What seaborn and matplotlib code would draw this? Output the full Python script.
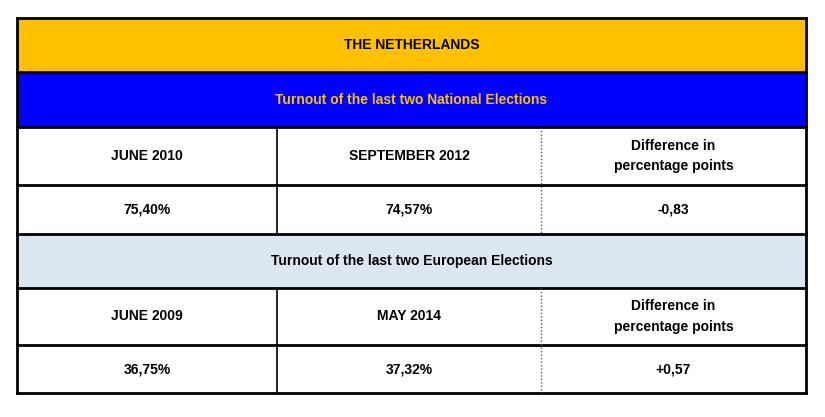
import matplotlib
matplotlib.use("Agg")
import matplotlib.pyplot as plt
import seaborn as sns
from matplotlib.patches import Rectangle

title = "THE NETHERLANDS"
national_title = "Turnout of the last two National Elections"
european_title = "Turnout of the last two European Elections"
national_headers = ["JUNE 2010", "SEPTEMBER 2012", "Difference in\npercentage points"]
national_values = ["75,40%", "74,57%", "-0,83"]
european_headers = ["JUNE 2009", "MAY 2014", "Difference in\npercentage points"]
european_values = ["36,75%", "37,32%", "+0,57"]

sns.set_theme(style="white")
plt.rcParams['font.family'] = ['Liberation Sans', 'DejaVu Sans']

fig = plt.figure(figsize=(8.25, 4.17), dpi=100)
ax = fig.add_axes([0, 0, 1, 1])
ax.set_xlim(0, 825); ax.set_ylim(417, 0); ax.axis('off')

L, R = 17, 806
cols = [L, 277, 541, R]
rows = [18, 72, 127, 185, 234, 288, 345, 393]
fills = ["#FFC000", "#0000FF", "white", "white", "#DCE6F1", "white", "white"]
for i, c in enumerate(fills):
    ax.add_patch(Rectangle((L, rows[i]), R - L, rows[i+1] - rows[i], facecolor=c, edgecolor='none'))

lw = 2
for y in rows:
    ax.plot([L, R], [y, y], color='black', lw=lw, solid_capstyle='projecting')
ax.plot([L, L], [rows[0], rows[-1]], color='black', lw=lw)
ax.plot([R, R], [rows[0], rows[-1]], color='black', lw=lw)
for (y0, y1) in [(rows[2], rows[4]), (rows[5], rows[7])]:
    ax.plot([cols[1], cols[1]], [y0, y1], color='black', lw=1.2)
    ax.plot([cols[2], cols[2]], [y0, y1], color='#555555', lw=1, linestyle=(0, (1, 1.5)))

def ctext(y, s, color='black', x=(L + R) / 2):
    ax.text(x, y, s, ha='center', va='center', fontsize=10, fontweight='bold',
            color=color, linespacing=1.6, fontstretch='condensed')

ctext((rows[0] + rows[1]) / 2, title)
ctext((rows[1] + rows[2]) / 2, national_title, color='#FFC000')
ctext((rows[4] + rows[5]) / 2, european_title)
for j in range(3):
    xc = (cols[j] + cols[j+1]) / 2
    ctext((rows[2] + rows[3]) / 2, national_headers[j], x=xc)
    ctext((rows[3] + rows[4]) / 2, national_values[j], x=xc)
    ctext((rows[5] + rows[6]) / 2, european_headers[j], x=xc)
    ctext((rows[6] + rows[7]) / 2, european_values[j], x=xc)

fig.savefig("out.png", dpi=100, facecolor='white')
